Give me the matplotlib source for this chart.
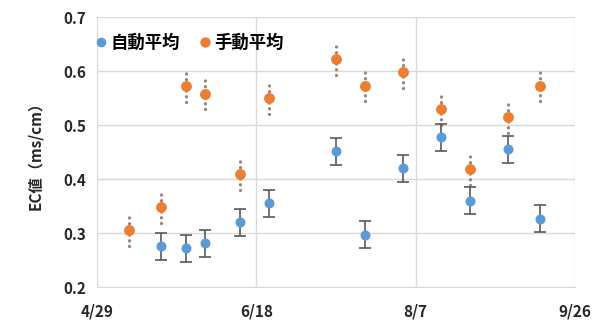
import matplotlib
matplotlib.use("Agg")
import matplotlib.pyplot as plt
import numpy as np
import pandas as pd

plt.rcParams['font.family'] = ['Noto Sans CJK JP', 'DejaVu Sans']

# 自動平均 (automatic measurement mean) with error range
auto_dates = ["2019-05-19", "2019-05-27", "2019-06-02", "2019-06-13", "2019-06-22",
              "2019-07-13", "2019-07-22", "2019-08-03", "2019-08-15", "2019-08-24",
              "2019-09-05", "2019-09-15"]
auto_mean = [0.276, 0.272, 0.281, 0.320, 0.355, 0.452, 0.297, 0.420, 0.478, 0.360, 0.455, 0.327]
auto_err = [0.025, 0.025, 0.025, 0.025, 0.025, 0.025, 0.025, 0.025, 0.025, 0.025, 0.025, 0.025]

# 手動平均 (manual measurement mean) with error range
manual_dates = ["2019-05-09", "2019-05-19", "2019-05-27", "2019-06-02", "2019-06-13",
                "2019-06-22", "2019-07-13", "2019-07-22", "2019-08-03", "2019-08-15",
                "2019-08-24", "2019-09-05", "2019-09-15"]
manual_mean = [0.305, 0.348, 0.573, 0.558, 0.410, 0.550, 0.623, 0.572, 0.598, 0.530, 0.418, 0.515, 0.572]
manual_err = [0.028, 0.030, 0.030, 0.029, 0.030, 0.030, 0.030, 0.028, 0.030, 0.030, 0.028, 0.029, 0.028]

x_ticks = ["2019-04-29", "2019-06-18", "2019-08-07", "2019-09-26"]
x_tick_labels = ["4/29", "6/18", "8/7", "9/26"]
y_ticks = [0.2, 0.3, 0.4, 0.5, 0.6, 0.7]

start = pd.Timestamp(x_ticks[0])
def days(ds):
    return np.array([(pd.Timestamp(d) - start).days for d in ds], dtype=float)

xa = days(auto_dates)
xm = days(manual_dates)
xt = days(x_ticks)

blue = "#5B9BD5"
orange = "#ED7D31"

fig = plt.figure(figsize=(6.07, 3.23), dpi=100)
ax = fig.add_axes([0.160, 0.111, 0.787, 0.836])

ax.set_xlim(xt[0], xt[-1])
ax.set_ylim(0.2, 0.7)
ax.set_xticks(xt)
ax.set_xticklabels(x_tick_labels)
ax.set_yticks(y_ticks)
ax.set_yticklabels([f"{v:.1f}" for v in y_ticks])
ax.grid(True, color="#d9d9d9", linewidth=1.0)
ax.set_axisbelow(True)
for s in ax.spines.values():
    s.set_visible(False)
ax.spines['bottom'].set_visible(True)
ax.spines['bottom'].set_color("#d9d9d9")
ax.tick_params(length=0, labelsize=11)
ax.tick_params(axis='y', pad=8)
ax.tick_params(axis='x', pad=12)
for lab in ax.get_xticklabels() + ax.get_yticklabels():
    lab.set_fontweight('bold')
    lab.set_color('#262626')

# manual: dotted error bars
for x, m, e in zip(xm, manual_mean, manual_err):
    ax.plot([x, x], [m - e, m + e], color="#a08472", linewidth=2.4,
            linestyle=(0, (0.01, 1.7)), dash_capstyle='round', zorder=2)
ax.plot(xm, manual_mean, linestyle='none', marker='o', markersize=6.8,
        color=orange, zorder=3, label="手動平均")

# automatic: solid error bars with caps
ax.errorbar(xa, auto_mean, yerr=auto_err, fmt='none', ecolor="#595959",
            elinewidth=1.2, capsize=4, capthick=1.2, zorder=2)
ax.plot(xa, auto_mean, linestyle='none', marker='o', markersize=6.2,
        color=blue, zorder=3, label="自動平均")

handles, labels = ax.get_legend_handles_labels()
ax.legend(handles[::-1], labels[::-1], loc='upper left', bbox_to_anchor=(-0.035, 0.995),
          ncol=2, frameon=False, handlelength=0.6, handletextpad=0.25,
          columnspacing=1.1, markerscale=0.95,
          prop={'weight': 'bold', 'size': 12.5})

ax.set_ylabel("EC値（ms/cm）", fontsize=11, fontweight='bold', color='#262626', labelpad=14)

fig.savefig("out.png", dpi=100)
